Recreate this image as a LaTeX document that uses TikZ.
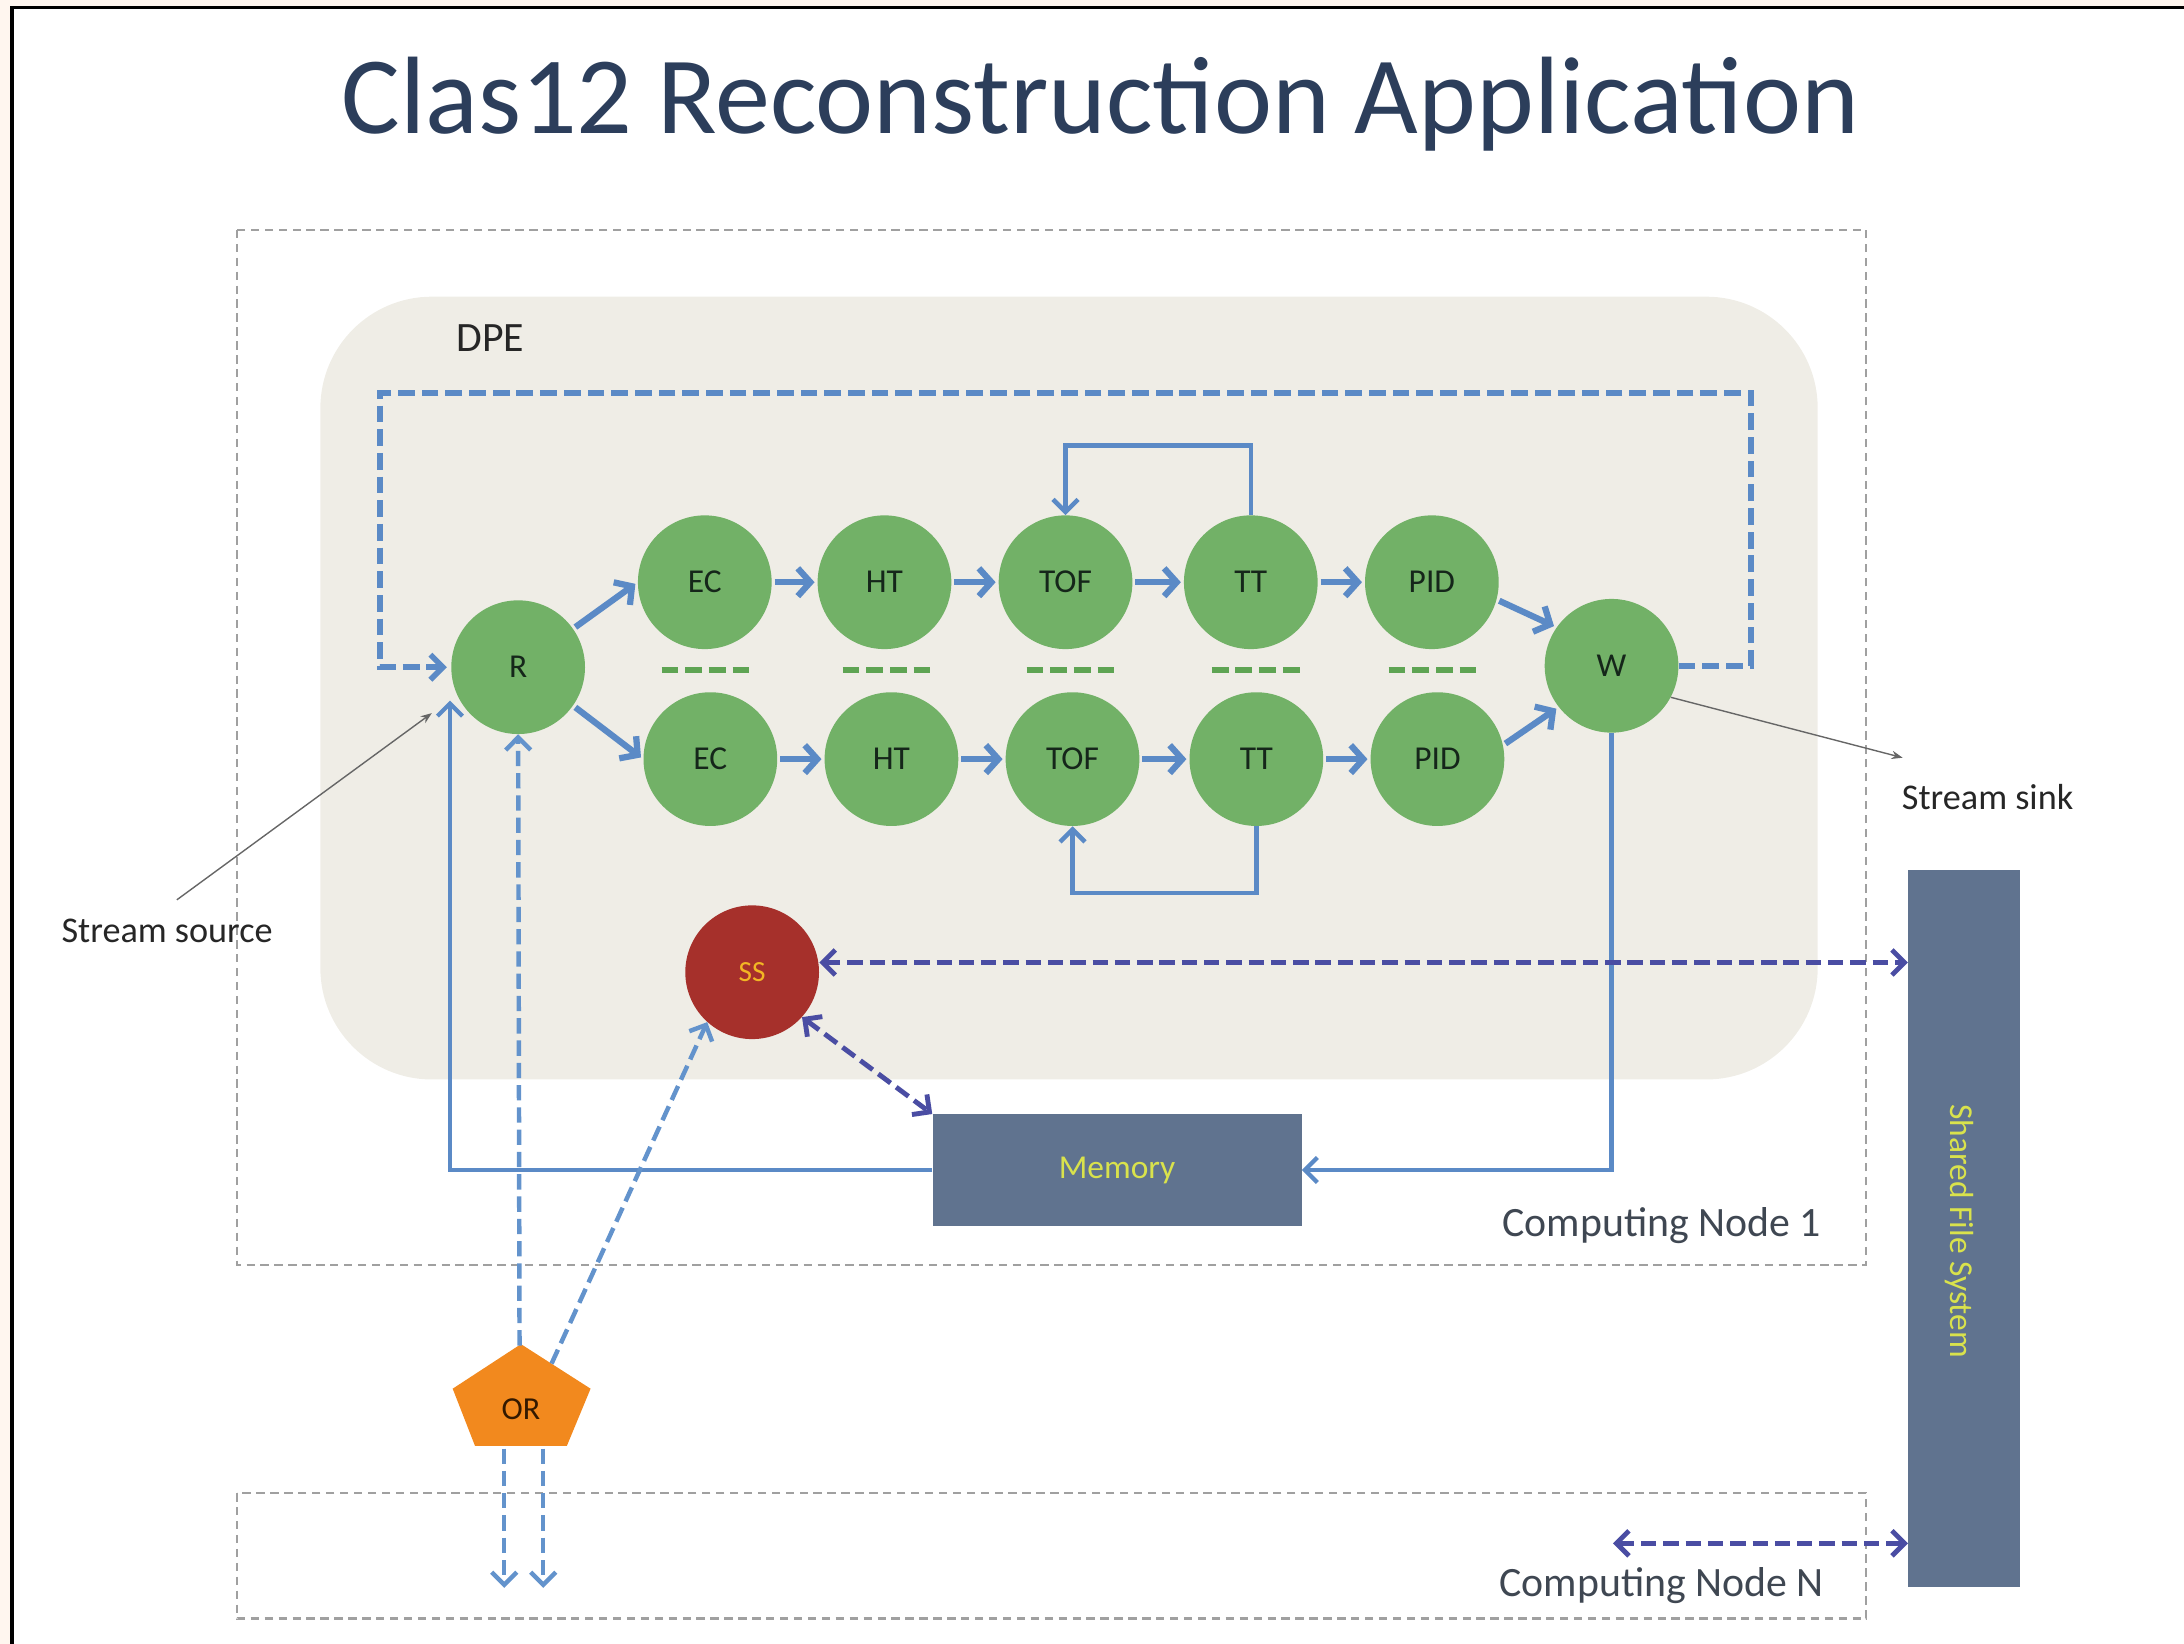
\documentclass[tikz,border=0pt]{standalone}
\usepackage{fontspec}
\setmainfont{Carlito}
\usetikzlibrary{arrows.meta,calc}
\definecolor{ablue}{HTML}{5B8AC6}
\definecolor{lblue}{HTML}{6393CC}
\definecolor{cpurple}{HTML}{4A4DA3}
\definecolor{cgreen}{HTML}{72B167}
\definecolor{sepgreen}{HTML}{5EA453}
\definecolor{ctext}{HTML}{15261A}
\definecolor{dpefill}{HTML}{EFEDE6}
\definecolor{slate}{HTML}{60738F}
\definecolor{memtext}{HTML}{D9E24C}
\definecolor{ssred}{HTML}{A6302B}
\definecolor{sstext}{HTML}{F2B624}
\definecolor{orfill}{HTML}{F2891E}
\definecolor{titlec}{HTML}{2C3E5B}
\definecolor{nodegray}{HTML}{3F4752}
\definecolor{boxgray}{HTML}{A0A0A0}
\definecolor{peach}{HTML}{FFF6EF}
\begin{document}
\begin{tikzpicture}[x=1pt,y=-1pt,
  gnode/.style={circle,fill=cgreen,minimum size=96pt,inner sep=0pt,font=\fontsize{24}{28}\selectfont,text=ctext},
  flow/.style={draw=ablue,line width=4.5pt,-{Straight Barb[length=9pt,width=20pt]},shorten >=2pt,shorten <=2pt},
  loopar/.style={draw=ablue,line width=3.2pt,-{Straight Barb[length=9pt,width=18pt]}},
  fbdash/.style={draw=ablue,line width=4pt,dash pattern=on 12pt off 5pt,-{Straight Barb[length=9pt,width=18pt]},shorten >=3pt},
  bdashar/.style={draw=lblue,line width=3.2pt,dash pattern=on 11pt off 5pt,-{Straight Barb[length=9pt,width=18pt]}},
  pdash/.style={draw=cpurple,line width=3.5pt,dash pattern=on 11pt off 5pt,{Straight Barb[length=9pt,width=18pt]}-{Straight Barb[length=9pt,width=18pt]}},
  sepline/.style={draw=sepgreen,line width=4pt,dash pattern=on 12pt off 5pt},
  cnbox/.style={draw=boxgray,line width=1.5pt,dash pattern=on 6pt off 4pt},
  thinar/.style={draw=gray!80!black,line width=1pt,-{Stealth[length=8pt,width=6pt]}},
  lbl/.style={font=\fontsize{26}{30}\selectfont,text=black!85},
  cnlbl/.style={font=\fontsize{30}{34}\selectfont,text=nodegray}
]
\useasboundingbox (0,0) rectangle (1568,1180);
% page frame
\fill[peach] (0,0) rectangle (1568,5);
\fill[peach] (0,0) rectangle (8,1180);
\draw[black,line width=2.5pt] (8.5,1180) -- (8.5,5.5) -- (1568,5.5);

% title
\node[font=\fontsize{79}{90}\selectfont,text=titlec] (title) at (790,75) {Clas12 Reconstruction Application};

% computing node boxes
\draw[cnbox] (170,165) rectangle (1340,908);
\draw[cnbox] (170,1072) rectangle (1340,1162);

% DPE area
\fill[dpefill,rounded corners=80pt] (230,213) rectangle (1305,775);
\node[font=\fontsize{30}{34}\selectfont,text=black!85] (dpe) at (352,243) {DPE};

% circles
\node[gnode] (R) at (372,479) {R};
\node[gnode] (EC1) at (506,418) {EC};
\node[gnode] (HT1) at (635,418) {HT};
\node[gnode] (TOF1) at (765,418) {TOF};
\node[gnode] (TT1) at (898,418) {TT};
\node[gnode] (PID1) at (1028,418) {PID};
\node[gnode] (EC2) at (510,545) {EC};
\node[gnode] (HT2) at (640,545) {HT};
\node[gnode] (TOF2) at (770,545) {TOF};
\node[gnode] (TT2) at (902,545) {TT};
\node[gnode] (PID2) at (1032,545) {PID};
\node[gnode] (W) at (1157,478) {W};

% separators
\foreach \sx in {475,605,737,870,997}
  \draw[sepline] (\sx,481) -- ++(63,0);

% flow arrows
\draw[flow] (R.35) -- (EC1.west);
\draw[flow] (R.-35) -- (EC2.west);
\draw[flow] (EC1) -- (HT1);
\draw[flow] (HT1) -- (TOF1);
\draw[flow] (TOF1) -- (TT1);
\draw[flow] (TT1) -- (PID1);
\draw[flow] (EC2) -- (HT2);
\draw[flow] (HT2) -- (TOF2);
\draw[flow] (TOF2) -- (TT2);
\draw[flow] (TT2) -- (PID2);
\draw[flow] (PID1.-15) -- (W.145);
\draw[flow] (PID2.12) -- (W.-142);

% inner loops
\draw[loopar] (TT1.north) -- ++(0,-50) -| (TOF1.north);
\draw[loopar] (TT2.south) -- ++(0,48) -| (TOF2.south);

% feedback dashed loop
\coordinate (fbR) at (1257,282);
\coordinate (fbL) at (273,282);
\draw[fbdash] (W.east) -| (fbR) -- (fbL) |- (R.west);

% SS, memory, shared FS, OR
\node[circle,fill=ssred,minimum size=96pt,inner sep=0pt,text=sstext,font=\fontsize{21}{24}\selectfont] (SS) at (540,698) {SS};
\node[fill=slate,minimum width=265pt,minimum height=80pt,inner sep=0pt,text=memtext,font=\fontsize{24}{28}\selectfont] (Mem) at (802,840) {Memory};
\node[fill=slate,minimum width=80pt,minimum height=515pt,inner sep=0pt] (SFS) at (1410,882) {};
\node[rotate=-90,text=memtext,font=\fontsize{24}{28}\selectfont] (sfslbl) at (1407,884) {Shared File System};
\fill[orfill] (374,965) -- (424,997) -- (407,1038) -- (341,1038) -- (325,997) -- cycle;
\node[text=black!80!orange,font=\fontsize{23}{26}\selectfont] (OR) at (374,1012) {OR};

% solid memory loop
\coordinate (Rin) at (323,503);
\draw[loopar,line width=3pt] (W.south) |- (Mem.east);
\draw[loopar,line width=3pt] (Mem.west) -| (Rin);

% OR dashed connectors
\coordinate (ORt) at (373,966);
\coordinate (ORne) at (396,979);
\draw[bdashar] (ORt) -- (R.south);
\draw[bdashar] (ORne) -- (SS.228);
\coordinate (o1a) at (362,1040);
\coordinate (o1b) at (362,1140);
\coordinate (o2a) at (390,1040);
\coordinate (o2b) at (390,1140);
\draw[bdashar] (o1a) -- (o1b);
\draw[bdashar] (o2a) -- (o2b);

% purple dashed double arrows
\draw[pdash] ([yshift=7pt]SS.east) -- ([yshift=7pt]SS.east -| SFS.west);
\draw[pdash] (SS.-42) -- (Mem.north west);
\coordinate (nN) at (1158,1108);
\draw[pdash] (nN) -- (nN -| SFS.west);

% stream labels
\node[lbl] (src) at (120,668) {Stream source};
\coordinate (srcTip) at (310,512);
\draw[thinar] (127,646) -- (srcTip);
\node[lbl] (sink) at (1427,572) {Stream sink};
\coordinate (sinkTip) at (1366,544);
\draw[thinar] (W.-28) -- (sinkTip);

% computing node labels
\node[cnlbl] (cn1) at (1193,880) {Computing Node 1};
\node[cnlbl] (cnN) at (1193,1138) {Computing Node N};
\end{tikzpicture}
\end{document}
